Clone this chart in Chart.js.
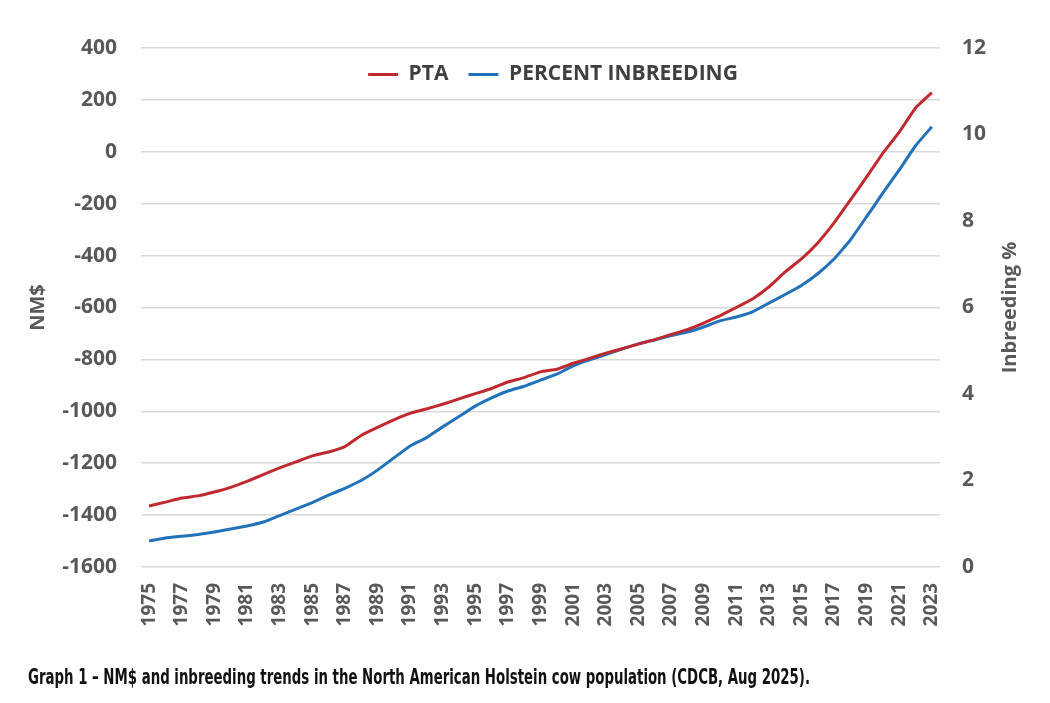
<!DOCTYPE html>
<html>
<head>
<meta charset="utf-8">
<script src="https://cdn.jsdelivr.net/npm/chart.js@4/dist/chart.umd.min.js"></script>
<style>
  html, body { margin: 0; padding: 0; background: #ffffff; }
  #wrap { position: relative; width: 1050px; height: 703px; }
  #caption {
    position: absolute; left: 28px; top: 665px; white-space: nowrap;
    font-family: 'Liberation Sans Narrow', 'DejaVu Sans Condensed', 'Roboto', sans-serif;
    font-weight: bold; font-size: 21px; line-height: 24px; color: #111111;
    transform-origin: 0 50%;
  }
</style>
</head>
<body>
<div id="wrap">
  <canvas id="c" width="1050" height="703"></canvas>
  <div id="caption">Graph 1 – NM$ and inbreeding trends in the North American Holstein cow population (CDCB, Aug 2025).</div>
</div>
<script>
const years = ['1975','1976','1977','1978','1979','1980','1981','1982','1983','1984',
  '1985','1986','1987','1988','1989','1990','1991','1992','1993','1994',
  '1995','1996','1997','1998','1999','2000','2001','2002','2003','2004',
  '2005','2006','2007','2008','2009','2010','2011','2012','2013','2014',
  '2015','2016','2017','2018','2019','2020','2021','2022','2023'];

const ptaValues = [-1365,-1350,-1334,-1326,-1311,-1293,-1270,-1244,-1218,-1195,
  -1172,-1157,-1136,-1093,-1062,-1033,-1008,-991,-973,-952,
  -932,-912,-887,-870,-848,-838,-815,-796,-776,-759,
  -741,-724,-704,-685,-660,-632,-600,-567,-521,-463,
  -413,-351,-274,-186,-97,-5,76,169,228];

const inbreedingValues = [0.60,0.67,0.71,0.75,0.81,0.88,0.95,1.04,1.19,1.34,
  1.49,1.66,1.82,2.00,2.24,2.52,2.80,2.99,3.24,3.48,
  3.72,3.91,4.07,4.18,4.32,4.46,4.65,4.79,4.91,5.04,
  5.16,5.25,5.35,5.43,5.55,5.69,5.78,5.90,6.10,6.30,
  6.51,6.78,7.12,7.56,8.10,8.65,9.18,9.74,10.18];

const seriesNames = ['PTA', 'PERCENT INBREEDING'];
const leftTitle = 'NM$';
const rightTitle = 'Inbreeding %';
const leftTicks = { min: -1600, max: 400, step: 200 };
const rightTicks = { min: 0, max: 12, step: 2 };

const tickColor = '#595959';
const tickFont = { family: 'Open Sans', weight: 'bold', size: 21 };

const rightTitlePlugin = {
  id: 'rightTitle',
  afterDraw(chart) {
    const ctx = chart.ctx, a = chart.chartArea;
    ctx.save();
    ctx.translate(1010, (a.top + a.bottom) / 2);
    ctx.rotate(-Math.PI / 2);
    ctx.font = 'bold 20px "Open Sans"';
    ctx.fillStyle = tickColor;
    ctx.textAlign = 'center';
    ctx.textBaseline = 'middle';
    ctx.fillText(rightTitle, 0, 0);
    ctx.restore();
  }
};

// legend overlaps the plot area like the reference: give it almost no layout height,
// then restore its drawing box after the layout is done
const legendOverlay = {
  id: 'legendOverlay',
  beforeLayout(chart) {
    const lg = chart.legend;
    if (lg && !lg._patched) {
      const orig = lg.fit;
      lg.fit = function() { orig.call(this); this._realHeight = this.height; this.height = 4; };
      lg._patched = true;
    }
  },
  afterLayout(chart) {
    const lg = chart.legend;
    if (lg) {
      lg.left += 28; lg.right += 28;
      lg.height = lg._realHeight || 50;
      lg.bottom = lg.top + lg.height;
    }
  }
};

new Chart(document.getElementById('c'), {
  type: 'line',
  data: {
    labels: years,
    datasets: [
      { label: seriesNames[0], data: ptaValues, yAxisID: 'y',
        borderColor: '#BF2A30', backgroundColor: '#BF2A30', borderWidth: 3,
        pointRadius: 0, tension: 0.1, fill: false },
      { label: seriesNames[1], data: inbreedingValues, yAxisID: 'y1',
        borderColor: '#2272BA', backgroundColor: '#2272BA', borderWidth: 3,
        pointRadius: 0, tension: 0.1, fill: false }
    ]
  },
  options: {
    responsive: false,
    animation: false,
    devicePixelRatio: 1,
    layout: { padding: { top: 44, left: 0, right: 0, bottom: 0 } },
    plugins: {
      legend: {
        position: 'top',
        align: 'center',
        labels: {
          usePointStyle: true, pointStyle: 'line', pointStyleWidth: 30,
          boxHeight: 21, padding: 20,
          color: '#404040',
          font: { family: 'Open Sans', weight: 'bold', size: 21 }
        }
      },
      tooltip: { enabled: false }
    },
    scales: {
      x: {
        offset: true,
        grid: { display: false, drawTicks: false },
        border: { display: false },
        ticks: {
          autoSkip: false, maxRotation: 90, minRotation: 90, padding: 16,
          color: tickColor, font: { family: 'Open Sans', weight: 'bold', size: 19 },
          callback: function(v, i) { return i % 2 === 0 ? years[i] : ''; }
        },
        afterFit(scale) { scale.height = 136; }
      },
      y: {
        position: 'left',
        min: leftTicks.min, max: leftTicks.max,
        ticks: { stepSize: leftTicks.step, padding: 24, color: tickColor, font: tickFont,
                 callback: function(v) { return String(v); } },
        grid: { color: '#D9D9D9', lineWidth: 1.5, drawTicks: false },
        border: { display: false },
        title: { display: true, text: leftTitle, color: tickColor,
                 font: { family: 'Open Sans', weight: 'bold', size: 20 },
                 padding: { top: 26, bottom: 0 } },
        afterFit(scale) { scale.width = 141; }
      },
      y1: {
        position: 'right',
        min: rightTicks.min, max: rightTicks.max,
        ticks: { stepSize: rightTicks.step, padding: 22, color: tickColor, font: tickFont,
                 callback: function(v) { return String(v); } },
        grid: { display: false, drawTicks: false },
        border: { display: false },
        afterFit(scale) { scale.width = 110; }
      }
    }
  },
  plugins: [rightTitlePlugin, legendOverlay]
});

// fit caption width to reference
(function() {
  const cap = document.getElementById('caption');
  const w = cap.getBoundingClientRect().width;
  if (w > 0) cap.style.transform = 'scaleX(' + (782 / w) + ')';
})();
</script>
</body>
</html>
